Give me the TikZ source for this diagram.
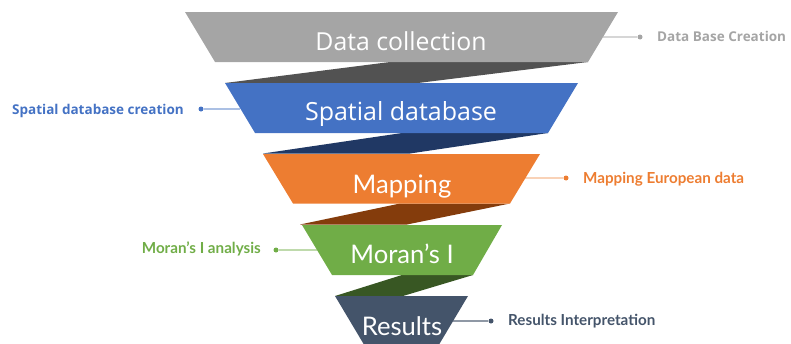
\documentclass[tikz,border=0pt]{standalone}
\usepackage{fontspec}
\setmainfont{Lato}
\newfontfamily\osans{Open Sans}
\definecolor{cgray}{HTML}{A5A5A5}
\definecolor{cgrayd}{HTML}{525252}
\definecolor{cblue}{HTML}{4472C4}
\definecolor{cblued}{HTML}{203864}
\definecolor{corange}{HTML}{ED7D31}
\definecolor{corangd}{HTML}{843C0C}
\definecolor{cgreen}{HTML}{70AD47}
\definecolor{cgreend}{HTML}{385723}
\definecolor{cslate}{HTML}{44546A}
\begin{document}
\begin{tikzpicture}[x=1pt,y=-1pt,
  stagetext/.style={text=white,anchor=base,inner sep=0pt,font=\fontsize{25.6}{28}\selectfont},
  lbl/.style={anchor=base,inner sep=0pt,font=\bfseries\fontsize{15.2}{17}\selectfont},
  dotn/.style={circle,inner sep=0pt,minimum size=5pt},
  lead/.style={line width=1.3pt}]
\useasboundingbox (0,0) rectangle (791,343);
\clip (0,0) rectangle (791,343);
% attachment coordinates
\coordinate (e1) at (603,37);
\coordinate (e2) at (240,109);
\coordinate (e3) at (525,178);
\coordinate (e4) at (317,250);
\coordinate (e5) at (453,321);
% dots
\node[dotn,fill=cgray] (d1) at (640,37) {};
\node[dotn,fill=cblue] (d2) at (201,109) {};
\node[dotn,fill=corange] (d3) at (566,178) {};
\node[dotn,fill=cgreen] (d4) at (276,250) {};
\node[dotn,fill=cslate] (d5) at (491,321) {};
% leader lines
\draw[lead,cgray!45] (d1) -- (e1);
\draw[lead,cblue!45] (d2) -- (e2);
\draw[lead,corange!35] (d3) -- (e3);
\draw[lead,cgreen!45] (d4) -- (e4);
\draw[lead,cslate!60] (d5) -- (e5);
% ribbons
\fill[cgrayd] (390,62) -- (588,62) -- (418,83) -- (225,83) -- cycle;
\fill[cblued] (402,133) -- (548,133) -- (410,153.5) -- (263,153.5) -- cycle;
\fill[corangd] (400,203.5) -- (510,203.5) -- (407,224.5) -- (300,224.5) -- cycle;
\fill[cgreend] (402,275) -- (473,275) -- (403,296) -- (335,296) -- cycle;
% layers
\fill[cgray] (185,12) -- (618,12) -- (588,62) -- (215,62) -- cycle;
\fill[cblue] (225,83) -- (578,83) -- (548,133) -- (255,133) -- cycle;
\fill[corange] (263,154) -- (540,154) -- (510,203.5) -- (293,203.5) -- cycle;
\fill[cgreen] (302,225) -- (502,225) -- (473,275) -- (332,275) -- cycle;
\fill[cslate] (335,296) -- (468,296) -- (437,348) -- (366,348) -- cycle;
% stage texts
\node[stagetext,font=\osans\fontsize{24.8}{28}\selectfont] (t1) at (401,50) {Data collection};
\node[stagetext,font=\osans\fontsize{25}{28}\selectfont] (t2) at (401,120) {Spatial database};
\node[stagetext] (t3) at (402,193) {Mapping};
\node[stagetext] (t4) at (402,263) {Moran’s I};
\node[stagetext] (t5) at (402,335) {Results};
% labels
\node[lbl,anchor=base west,text=cgray,font=\osans\bfseries\fontsize{13.5}{16}\selectfont] (l1) at (657,41) {Data Base Creation};
\node[lbl,anchor=base east,text=cblue,font=\osans\bfseries\fontsize{13.5}{16}\selectfont] (l2) at (184,114) {Spatial database creation};
\node[lbl,anchor=base west,text=corange] (l3) at (583,183) {Mapping European data};
\node[lbl,anchor=base east,text=cgreen] (l4) at (261,253) {Moran’s I analysis};
\node[lbl,anchor=base west,text=cslate] (l5) at (508,325) {Results Interpretation};
\end{tikzpicture}
\end{document}
